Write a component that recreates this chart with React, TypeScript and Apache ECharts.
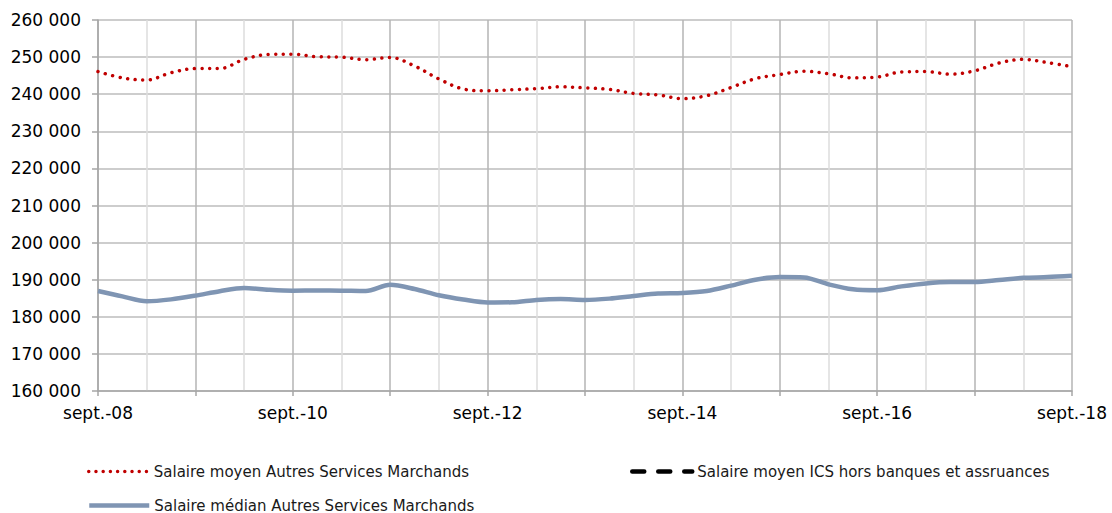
import React, { useEffect, useRef } from "react";
import * as echarts from "echarts";

const categories: string[] = [
  "sept.-08", "déc.-08", "mars-09", "juin-09",
  "sept.-09", "déc.-09", "mars-10", "juin-10",
  "sept.-10", "déc.-10", "mars-11", "juin-11",
  "sept.-11", "déc.-11", "mars-12", "juin-12",
  "sept.-12", "déc.-12", "mars-13", "juin-13",
  "sept.-13", "déc.-13", "mars-14", "juin-14",
  "sept.-14", "déc.-14", "mars-15", "juin-15",
  "sept.-15", "déc.-15", "mars-16", "juin-16",
  "sept.-16", "déc.-16", "mars-17", "juin-17",
  "sept.-17", "déc.-17", "mars-18", "juin-18",
  "sept.-18",
];

const seriesNames: string[] = [
  "Salaire moyen Autres Services Marchands",
  "Salaire moyen ICS hors banques et assruances",
  "Salaire médian Autres Services Marchands",
];

const salaireMoyenASM: number[] = [
  246100, 244400, 243800, 245800, 246900, 246900, 249400, 250700, 250800, 250100,
  250000, 249300, 249900, 247600, 244100, 241400, 240900, 241200, 241500, 242000,
  241700, 241300, 240200, 239800, 238800, 239600, 241800, 244200, 245300, 246200,
  245500, 244400, 244600, 246000, 246100, 245400, 246300, 248400, 249400, 248500,
  247400,
];

const salaireMoyenICS: number[] = [];

const salaireMedianASM: number[] = [
  186950, 185500, 184200, 184700, 185700, 186900, 187750, 187300, 187050, 187100,
  187050, 186950, 188650, 187500, 185800, 184650, 183850, 183900, 184550, 184800,
  184550, 184900, 185600, 186250, 186400, 186950, 188400, 190000, 190700, 190600,
  188750, 187400, 187150, 188200, 189000, 189350, 189350, 189900, 190500, 190700,
  191050,
];

const yMin = 160000;
const yMax = 260000;
const yStep = 10000;

const fmt = (v: number) => String(v).replace(/\B(?=(\d{3})+(?!\d))/g, " ");

export default function App() {
  const ref = useRef<HTMLDivElement>(null);
  useEffect(() => {
    document.body.style.margin = "0";
    if (!ref.current) return;
    const chart = echarts.init(ref.current, null, { renderer: "svg" });
    const font = "DejaVu Sans";
    const legendBase = {
      itemWidth: 60,
      itemHeight: 14,
      itemGap: 5,
      itemStyle: { opacity: 0, borderWidth: 0 },
      textStyle: { fontFamily: font, fontSize: 15, color: "#1a1a1a" },
      selectedMode: false,
    };
    chart.setOption({
      animation: false,
      backgroundColor: "#ffffff",
      grid: { left: 98, right: 40, top: 20, bottom: 122, containLabel: false },
      xAxis: {
        type: "category",
        data: categories,
        boundaryGap: false,
        axisLine: { show: true, lineStyle: { color: "#a6a6a6", width: 1.5 } },
        axisTick: { show: true, interval: 3, length: 5, lineStyle: { color: "#a6a6a6", width: 1.5 } },
        axisLabel: {
          interval: 7,
          margin: 13,
          fontFamily: font,
          fontSize: 17,
          color: "#000000",
        },
        splitLine: {
          show: true,
          interval: 1,
          lineStyle: { color: ["#b4b4b4", "#dcdcdc"], width: 1.5 },
        },
      },
      yAxis: {
        type: "value",
        min: yMin,
        max: yMax,
        interval: yStep,
        axisLine: { show: true, lineStyle: { color: "#a6a6a6", width: 1.5 } },
        axisTick: { show: true, length: 6, lineStyle: { color: "#a6a6a6", width: 1.5 } },
        axisLabel: {
          margin: 17,
          fontFamily: font,
          fontSize: 17,
          color: "#000000",
          formatter: (v: number) => fmt(v),
        },
        splitLine: { show: true, lineStyle: { color: "#bdbdbd", width: 1.5 } },
      },
      legend: [
        {
          ...legendBase,
          data: [seriesNames[0]],
          left: 82,
          top: 459,
          lineStyle: { color: "#c00000", width: 3.5, type: [0.01, 7.2], cap: "round" },
        },
        {
          ...legendBase,
          data: [seriesNames[1]],
          left: 625,
          top: 459,
          lineStyle: { color: "#000000", width: 4.5, type: [12, 14], cap: "round" },
        },
        {
          ...legendBase,
          data: [seriesNames[2]],
          left: 82,
          top: 493,
          lineStyle: { color: "#7f95b3", width: 4.5 },
        },
      ],
      series: [
        {
          name: seriesNames[0],
          type: "line",
          data: salaireMoyenASM,
          smooth: 0.35,
          symbol: "none",
          showSymbol: false,
          color: "#c00000",
          lineStyle: { color: "#c00000", width: 3.5, type: [0.01, 7.6], cap: "round" },
          z: 3,
        },
        {
          name: seriesNames[1],
          type: "line",
          data: salaireMoyenICS,
          symbol: "none",
          showSymbol: false,
          color: "#000000",
          lineStyle: { color: "#000000", width: 4, type: [12, 13], cap: "round" },
        },
        {
          name: seriesNames[2],
          type: "line",
          data: salaireMedianASM,
          smooth: 0.3,
          symbol: "none",
          showSymbol: false,
          color: "#7f95b3",
          lineStyle: { color: "#7f95b3", width: 4.5 },
          z: 2,
        },
      ],
    });
    return () => chart.dispose();
  }, []);
  return <div ref={ref} style={{ width: 1112, height: 513 }} />;
}
